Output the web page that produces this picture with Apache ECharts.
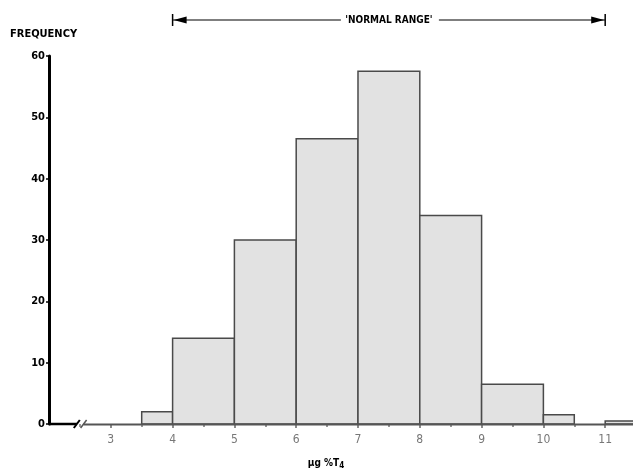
<!DOCTYPE html>
<html>
<head>
<meta charset="utf-8">
<script src="https://cdn.jsdelivr.net/npm/echarts@6/dist/echarts.min.js"></script>
<style>html,body{margin:0;padding:0;background:#fff}#c{width:633px;height:471px}</style>
</head>
<body>
<div id="c"></div>
<script>
var binStart = [3.5, 4, 5, 6, 7, 8, 9, 10, 11];
var binEnd   = [4, 5, 6, 7, 8, 9, 10, 10.5, 11.5];
var freq     = [2, 14, 30, 46.5, 57.5, 34, 6.5, 1.5, 0.5];
var xTickLabels = [3, 4, 5, 6, 7, 8, 9, 10, 11];
var yTickLabels = [0, 10, 20, 30, 40, 50, 60];
var normalRange = [4, 11];

var FONT = '"Liberation Sans Narrow","DejaVu Sans Condensed",sans-serif';
var chart = echarts.init(document.getElementById('c'));
var data = binStart.map(function (s, i) { return [s, binEnd[i], freq[i]]; });

chart.setOption({
  animation: false,
  grid: { left: 49, right: 0, top: 56, bottom: 47 },
  xAxis: {
    type: 'value', min: 2, max: 11.45, interval: 1,
    axisLine: { show: false },
    splitLine: { show: false },
    axisTick: { show: true, customValues: xTickLabels, length: 4, inside: false, lineStyle: { color: '#666', width: 1.5 } },
    minorTick: { show: true, splitNumber: 2, length: 3, lineStyle: { color: '#777', width: 1.5 } },
    axisLabel: { customValues: xTickLabels, color: '#777', fontFamily: FONT, fontSize: 12, margin: 10 }
  },
  yAxis: {
    type: 'value', min: 0, max: 60, interval: 10,
    axisLine: { show: true, lineStyle: { color: '#000', width: 3 } },
    splitLine: { show: false },
    axisTick: { show: true, length: 3, lineStyle: { color: '#000', width: 1.5 } },
    axisLabel: { color: '#000', fontFamily: FONT, fontWeight: 'bold', fontSize: 11, margin: 4 }
  },
  series: [{
    type: 'custom',
    data: data,
    encode: { x: [0, 1], y: 2 },
    renderItem: function (params, api) {
      var p0 = api.coord([api.value(0), 0]);
      var p1 = api.coord([api.value(1), api.value(2)]);
      return {
        type: 'rect',
        shape: { x: p0[0], y: p1[1], width: p1[0] - p0[0], height: p0[1] - p1[1] },
        style: { fill: '#e2e2e2', stroke: '#4a4a4a', lineWidth: 1.5 }
      };
    },
    z: 2
  }]
});

function px(x, y) { return chart.convertToPixel({ gridIndex: 0 }, [x, y]); }
var o = px(2, 0), brk = px(2.45, 0), brk2 = px(2.56, 0), end = px(11.45, 0);
var nl = px(normalRange[0], 0), nr = px(normalRange[1], 0);
var ay = 20, midX = (nl[0] + nr[0]) / 2;

chart.setOption({
  graphic: [
    { type: 'line', shape: { x1: o[0], y1: o[1], x2: brk[0], y2: o[1] }, style: { stroke: '#000', lineWidth: 2.5 }, z: 10 },
    { type: 'line', shape: { x1: brk[0] - 3, y1: o[1] + 4, x2: brk[0] + 3, y2: o[1] - 4 }, style: { stroke: '#000', lineWidth: 2 }, z: 10 },
    { type: 'line', shape: { x1: brk2[0] - 3, y1: o[1] + 4, x2: brk2[0] + 3, y2: o[1] - 4 }, style: { stroke: '#555', lineWidth: 1.5 }, z: 10 },
    { type: 'line', shape: { x1: brk2[0], y1: o[1] + 0.5, x2: end[0], y2: o[1] + 0.5 }, style: { stroke: '#555', lineWidth: 2 }, z: 10 },
    { type: 'text', left: 10, top: 29, style: { text: 'FREQUENCY', font: 'bold 11px ' + FONT, fill: '#000' } },
    { type: 'line', shape: { x1: nl[0], y1: ay, x2: midX - 48, y2: ay }, style: { stroke: '#000', lineWidth: 1.2 } },
    { type: 'line', shape: { x1: midX + 50, y1: ay, x2: nr[0], y2: ay }, style: { stroke: '#000', lineWidth: 1.2 } },
    { type: 'line', shape: { x1: nl[0], y1: ay - 6, x2: nl[0], y2: ay + 6 }, style: { stroke: '#000', lineWidth: 1.5 } },
    { type: 'line', shape: { x1: nr[0], y1: ay - 6, x2: nr[0], y2: ay + 6 }, style: { stroke: '#000', lineWidth: 1.5 } },
    { type: 'polygon', shape: { points: [[nl[0] + 1, ay], [nl[0] + 14, ay - 3.5], [nl[0] + 14, ay + 3.5]] }, style: { fill: '#000' } },
    { type: 'polygon', shape: { points: [[nr[0] - 1, ay], [nr[0] - 14, ay - 3.5], [nr[0] - 14, ay + 3.5]] }, style: { fill: '#000' } },
    { type: 'text', x: midX, y: ay, style: { text: "'NORMAL RANGE'", font: 'bold 10px ' + FONT, fill: '#000', align: 'center', verticalAlign: 'middle' } },
    { type: 'text', x: 326, y: 463, style: {
        text: '{a|µg %T}{b|4}', align: 'center', verticalAlign: 'middle',
        rich: { a: { font: 'bold 10px ' + FONT, fill: '#000' }, b: { font: 'bold 8px ' + FONT, fill: '#000', padding: [5, 0, 0, 0] } }
    } }
  ]
});
</script>
</body>
</html>
